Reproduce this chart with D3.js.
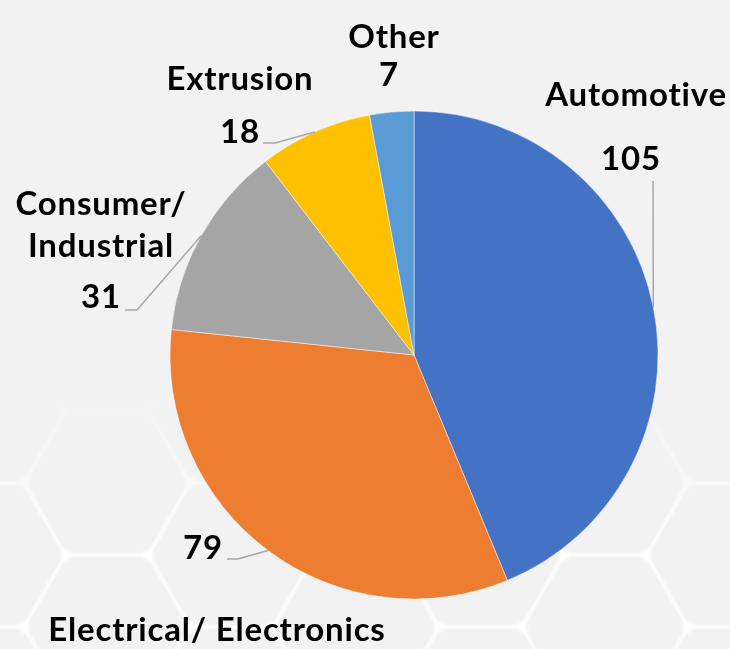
<!DOCTYPE html>
<html>
<head>
<meta charset="utf-8">
<script src="https://cdn.jsdelivr.net/npm/d3@7/dist/d3.min.js"></script>
<style>
  html, body { margin: 0; padding: 0; background: #f2f2f2; }
  svg { display: block; }
  text { font-family: Lato, "Open Sans", sans-serif; font-weight: 700; fill: #000; }
</style>
</head>
<body>
<script>
// Market segments and their volumes
const categories = ["Automotive", "Electrical/ Electronics", "Consumer/ Industrial", "Extrusion", "Other"];
const values = [105, 79, 31, 18, 7];
const colors = ["#4472C4", "#ED7D31", "#A5A5A5", "#FFC000", "#5B9BD5"];

// Category label lines (multi-line names)
const nameLines = [["Automotive"], ["Electrical/ Electronics"], ["Consumer/", "Industrial"], ["Extrusion"], ["Other"]];

const W = 730, H = 649;
const cx = 414, cy = 355, R = 244;

// Label placement: name block anchor, value anchor, and leader elbow
const labelLayout = [
  { name: [636, 106], value: [631, 170], elbow: null, line: [[653, 181], [653, 307]] },
  { name: [217, 641], value: [203, 559], elbow: [238, 559], end: [227, 559] },
  { name: [101, 215], value: [101, 308], elbow: [137, 310], end: [125, 310] },
  { name: [240, 90], value: [240, 143], elbow: [275, 143], end: [263, 143] },
  { name: [394, 48], value: [389, 86], elbow: null }
];

const svg = d3.select("body").append("svg").attr("width", W).attr("height", H);
const defs = svg.append("defs");

svg.append("rect").attr("width", W).attr("height", H).attr("fill", "#f2f2f2");

// Decorative hexagon lattice, fading in towards the bottom
const fade = defs.append("linearGradient").attr("id", "fade")
  .attr("gradientUnits", "userSpaceOnUse").attr("x1", 0).attr("y1", 385).attr("x2", 0).attr("y2", 545);
fade.append("stop").attr("offset", 0).attr("stop-color", "#fff").attr("stop-opacity", 0);
fade.append("stop").attr("offset", 1).attr("stop-color", "#fff").attr("stop-opacity", 1);
const mask = defs.append("mask").attr("id", "hexmask");
mask.append("rect").attr("width", W).attr("height", H).attr("fill", "url(#fade)");
defs.append("filter").attr("id", "soft").append("feGaussianBlur").attr("stdDeviation", 0.9);
defs.append("filter").attr("id", "glow").append("feGaussianBlur").attr("stdDeviation", 2.2);

const s = 83, hh = 72, colStep = 124.5;
const hexes = [];
for (let k = -1; k <= 6; k++) {
  const x = 107 + colStep * k;
  const y0 = (Math.abs(k) % 2 === 0) ? 483 : 555;
  for (let m = -3; m <= 2; m++) hexes.push([x, y0 + 144 * m]);
}
const hexG = svg.append("g").attr("mask", "url(#hexmask)");
const hexPath = ([x, y]) => `M${x - s},${y}L${x - s / 2},${y - hh}L${x + s / 2},${y - hh}L${x + s},${y}L${x + s / 2},${y + hh}L${x - s / 2},${y + hh}Z`;
hexG.append("g").attr("filter", "url(#soft)")
  .selectAll("path").data(hexes).join("path")
  .attr("d", hexPath).attr("fill", "none").attr("stroke", "#ffffff")
  .attr("stroke-width", 3).attr("stroke-opacity", 0.9);
const verts = [];
hexes.forEach(([x, y]) => {
  verts.push([x - s, y], [x + s, y], [x - s / 2, y - hh], [x + s / 2, y - hh], [x - s / 2, y + hh], [x + s / 2, y + hh]);
});
hexG.append("g").attr("filter", "url(#glow)")
  .selectAll("circle").data(verts).join("circle")
  .attr("cx", d => d[0]).attr("cy", d => d[1]).attr("r", 5).attr("fill", "#fff").attr("opacity", 0.9);

// Pie, starting at 12 o'clock and running clockwise
const pie = d3.pie().sort(null).value(d => d)(values);
const arc = d3.arc().innerRadius(0).outerRadius(R);
const g = svg.append("g").attr("transform", `translate(${cx},${cy})`);
g.selectAll("path").data(pie).join("path")
  .attr("d", arc)
  .attr("fill", (d, i) => colors[i])
  .attr("stroke", "#ffffff").attr("stroke-width", 0.8).attr("stroke-opacity", 0.6);

// Leader lines from each slice's outer midpoint
const edgePoint = d => {
  const a = (d.startAngle + d.endAngle) / 2;
  return [cx + R * Math.sin(a), cy - R * Math.cos(a)];
};
const leaders = svg.append("g").attr("fill", "none").attr("stroke", "#A6A6A6").attr("stroke-width", 1.5);
pie.forEach((d, i) => {
  const L = labelLayout[i];
  const p = edgePoint(d);
  if (L.line) {
    leaders.append("path").attr("d", d3.line()([L.line[0], p]));
  } else if (L.elbow) {
    leaders.append("path").attr("d", d3.line()([p, L.elbow, L.end]));
  }
});

// Labels: category name and value
const fs = 33, lh = 42;
const labels = svg.append("g").attr("font-size", fs).attr("letter-spacing", 0.8).attr("text-anchor", "middle");
categories.forEach((c, i) => {
  const L = labelLayout[i];
  const lines = nameLines[i];
  const t = labels.append("text").attr("x", L.name[0]).attr("y", L.name[1]);
  lines.forEach((ln, j) => {
    t.append("tspan").attr("x", L.name[0]).attr("y", L.name[1] + j * lh).text(ln);
  });
  labels.append("text").attr("x", L.value[0]).attr("y", L.value[1]).text(values[i]);
});
</script>
</body>
</html>
